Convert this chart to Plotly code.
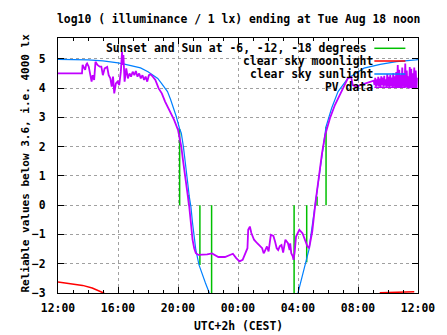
import plotly.graph_objects as go

# ---------------- data (hours since midnight of Aug 17; 24+ = Aug 18) ----------------
x_tickvals = [12, 16, 20, 24, 28, 32, 36]
x_ticktext = ["12:00", "16:00", "20:00", "00:00", "04:00", "08:00", "12:00"]
y_tickvals = [-3, -2, -1, 0, 1, 2, 3, 4, 5]

# Sunset / sun at -6, -12, -18 degrees (evening and morning), line from 0 to sunlight level
sun_event_times = [20.11, 20.71, 21.46, 22.24, 27.74, 28.58, 29.27, 29.87]
sun_event_levels = [2.6, 0.35, -2.04, -3.0, -3.0, -1.95, 0.3, 2.68]

# clear sky moonlight
moon_h_1 = [12.0, 12.13, 12.78, 13.64, 14.28, 15.04, 15.4]
moon_v_1 = [-2.62, -2.63, -2.66, -2.74, -2.83, -3.0, -3.15]
moon_h_2 = [33.45, 34.0, 35.0, 35.75]
moon_v_2 = [-2.99, -2.98, -2.97, -2.96]

# clear sky sunlight
sun_h = [12.0, 13.0, 14.0, 15.0, 15.5, 16.0, 16.5, 17.0, 17.5, 18.0, 18.3, 18.65, 18.9,
         19.1, 19.3, 19.5, 19.73, 19.89, 20.1, 20.22, 20.36, 20.54, 20.65, 20.75, 20.86,
         20.97, 21.19, 21.40, 21.62, 21.83, 22.05, 22.3,
         27.8, 28.0, 28.09, 28.30, 28.52, 28.74, 28.84, 29.06, 29.27, 29.49, 29.70, 29.87,
         30.24, 30.67, 31.32, 32.40, 33.48, 34.56, 35.85, 36.0]
sun_v = [4.98, 4.98, 4.96, 4.93, 4.90, 4.86, 4.81, 4.76, 4.69, 4.56, 4.46, 4.33, 4.16,
         4.02, 3.88, 3.62, 3.30, 3.02, 2.62, 2.46, 2.0, 1.32, 0.75, 0.30, -0.05,
         -0.61, -1.53, -2.04, -2.38, -2.66, -2.95, -3.3,
         -3.4, -3.0, -2.78, -2.45, -2.0, -1.5, -1.1, -0.27, 0.41, 1.2, 2.0, 2.68,
         3.31, 3.88, 4.33, 4.68, 4.81, 4.90, 4.96, 4.97]

# PV data
pv_h = [12.00, 13.60, 13.64, 13.75, 13.81, 13.88, 13.94, 14.05, 14.13, 14.24, 14.31, 14.41,
        14.50, 14.63, 14.78, 14.89, 14.99, 15.11, 15.28, 15.38, 15.49, 15.58, 15.67, 15.75,
        15.86, 15.97, 16.08, 16.19, 16.27, 16.31, 16.36, 16.44, 16.55, 16.66, 16.77, 16.87,
        16.98, 17.09, 17.19, 17.30, 17.41, 17.52, 17.63, 17.74, 17.84, 17.95, 18.06, 18.17,
        18.27, 18.38, 18.49, 18.71, 18.92, 19.14, 19.36, 19.57, 19.74, 20.00, 20.22, 20.33,
        20.49, 20.65, 20.75, 20.86, 20.97, 21.08, 21.19, 21.36, 21.62, 21.94, 22.27, 22.48,
        22.69, 23.13, 23.45, 23.66, 23.88, 24.10, 24.31, 24.42, 24.53, 24.63, 24.68, 24.79,
        24.89, 25.07, 25.28, 25.50, 25.61, 25.71, 25.76, 25.93, 26.04, 26.19, 26.36, 26.47,
        26.58, 26.68, 26.79, 26.90, 27.01, 27.16, 27.33, 27.44, 27.48, 27.55, 27.65, 27.70,
        27.78, 27.87, 28.09, 28.30, 28.52, 28.63, 28.74, 28.84, 28.95, 29.16, 29.38, 29.60,
        29.81, 30.13, 30.46, 30.78, 31.10, 31.32, 31.54, 31.65, 31.86, 32.40, 32.83, 32.94,
        33.00, 33.05, 33.10, 33.15, 33.20, 33.25, 33.30, 33.35, 33.40, 33.45, 33.50, 33.55,
        33.60, 33.65, 33.70, 33.75, 33.80, 33.85, 33.90, 33.95, 34.00, 34.05, 34.10, 34.15,
        34.20, 34.25, 34.30, 34.35, 34.40, 34.45, 34.50, 34.55, 34.60, 34.65, 34.70, 34.75,
        34.80, 34.85, 34.90, 34.95, 35.00, 35.05, 35.10, 35.15, 35.20, 35.25, 35.30, 35.35,
        35.40, 35.45, 35.50, 35.55, 35.60, 35.65, 35.70, 35.75, 35.80, 35.85, 35.90, 35.93]
pv_v = [4.50, 4.50, 4.79, 4.70, 4.62, 4.80, 4.84, 4.73, 4.50, 4.22, 4.44, 4.28,
        4.90, 4.79, 4.73, 4.73, 4.44, 4.67, 4.72, 4.44, 4.33, 4.05, 4.39, 3.82,
        4.16, 4.22, 4.10, 4.56, 5.24, 4.79, 5.13, 4.22, 4.67, 4.33, 4.50, 4.39,
        4.56, 4.44, 4.58, 4.39, 4.50, 4.33, 4.44, 4.28, 4.39, 4.22, 4.44, 4.47,
        4.42, 4.33, 4.28, 3.99, 3.82, 3.54, 3.31, 3.14, 2.91, 2.57, 2.00, 1.55,
        0.98, 0.29, -0.05, -0.61, -1.18, -1.47, -1.64, -1.70, -1.70, -1.68, -1.65, -1.70,
        -1.77, -1.77, -1.70, -1.66, -1.81, -1.92, -1.87, -1.72, -1.58, -1.47, -0.84, -0.73,
        -0.95, -1.18, -1.30, -1.41, -1.47, -1.64, -1.60, -1.41, -1.58, -1.01, -1.05, -1.24,
        -1.47, -1.53, -1.40, -1.36, -1.62, -1.18, -1.30, -1.53, -1.30, -1.64, -1.75, -1.87,
        -1.60, -1.07, -0.84, -0.96, -1.30, -1.41, -1.47, -1.24, -0.90, 0.07, 0.98, 1.77,
        2.40, 2.97, 3.42, 3.76, 4.10, 4.33, 4.38, 4.10, 4.05, 4.13, 4.22, 4.22,
        4.22, 4.25, 4.10, 4.35, 4.05, 4.30, 4.08, 4.38, 4.06, 4.32, 4.04, 4.40,
        4.10, 4.36, 4.05, 4.42, 4.08, 4.30, 4.04, 4.48, 4.06, 4.38, 4.03, 4.45,
        4.07, 4.36, 4.03, 4.50, 4.05, 4.40, 4.03, 4.55, 4.03, 4.79, 4.03, 4.62,
        4.03, 4.45, 4.03, 4.70, 4.05, 4.50, 4.00, 4.84, 4.02, 4.60, 4.00, 4.40,
        3.99, 4.72, 4.00, 4.66, 3.99, 4.50, 4.00, 4.70, 3.99, 4.60, 4.00, 4.35]

legend_names = ["Sunset and Sun at -6, -12, -18 degrees", "clear sky moonlight",
                "clear sky sunlight", "PV data"]

# ---------------- styles ----------------
GREEN = "#00c000"
RED = "#ff0000"
BLUE = "#0080ff"
PURPLE = "#c000ff"
FONT = "DejaVu Sans Mono"
FS = 11.4

W, H = 447, 335
L, R, T, B = 58, 18, 38, 42
PW, PH = W - L - R, H - T - B

def px(xp):
    return (xp - L) / PW

def py(yp):
    return (H - B - yp) / PH

fig = go.Figure()

# green event lines
gx, gy = [], []
for t, lv in zip(sun_event_times, sun_event_levels):
    gx += [t, t, None]
    gy += [0, lv, None]
fig.add_trace(go.Scatter(x=gx, y=gy, mode="lines", line=dict(color=GREEN, width=1.5),
                         name=legend_names[0], showlegend=False))
fig.add_trace(go.Scatter(x=moon_h_1 + [None] + moon_h_2, y=moon_v_1 + [None] + moon_v_2,
                         mode="lines", line=dict(color=RED, width=1.5),
                         name=legend_names[1], showlegend=False))
fig.add_trace(go.Scatter(x=sun_h, y=sun_v, mode="lines", line=dict(color=BLUE, width=1.2),
                         name=legend_names[2], showlegend=False))
fig.add_trace(go.Scatter(x=pv_h, y=pv_v, mode="lines", line=dict(color=PURPLE, width=1.8),
                         name=legend_names[3], showlegend=False))

tickfont = dict(family=FONT, size=FS, color="black", weight="bold")
axis_common = dict(showline=True, linecolor="black", linewidth=1, mirror="allticks",
                   ticks="inside", tickcolor="black", ticklen=6, tickwidth=1,
                   showgrid=True, gridcolor="#a0a0a0", gridwidth=1, griddash="3px,3px",
                   zeroline=False, tickfont=tickfont)

fig.update_xaxes(range=[12, 36], tickvals=x_tickvals, ticktext=x_ticktext,
                 minor=dict(dtick=1, tick0=12, ticks="inside", ticklen=3, tickcolor="black", showgrid=False),
                 ticklabelstandoff=4, **axis_common)
fig.update_yaxes(range=[-3, 5.71], tickvals=y_tickvals, ticklabelstandoff=9, **axis_common)

# opaque key area hides grid (between grid and traces)
shapes = [dict(type="rect", xref="paper", yref="paper", x0=px(107), x1=px(418), y0=py(93), y1=1,
               fillcolor="white", line=dict(width=0), layer="between")]

annotations = []
key_rows = [48.3, 61, 74, 87.3]
key_text_right = [378, 385, 385, 385]
key_colors = [GREEN, RED, BLUE, PURPLE]
for name, yr, xr, c in zip(legend_names, key_rows, key_text_right, key_colors):
    annotations.append(dict(text=name, xref="paper", yref="paper", x=px(xr), y=py(yr),
                            xanchor="right", yanchor="middle", showarrow=False,
                            font=tickfont))
    shapes.append(dict(type="line", xref="paper", yref="paper", x0=px(384), x1=px(416),
                       y0=py(yr), y1=py(yr), line=dict(color=c, width=1.5), layer="above"))

annotations.append(dict(text="log10 ( illuminance / 1 lx) ending at Tue Aug 18 noon",
                        xref="paper", yref="paper", x=0.5, y=py(18.5), xanchor="center",
                        yanchor="middle", showarrow=False, font=tickfont))
annotations.append(dict(text="UTC+2h (CEST)", xref="paper", yref="paper", x=0.5, y=py(325.7),
                        xanchor="center", yanchor="middle", showarrow=False, font=tickfont))
annotations.append(dict(text="Reliable values below 3.6, i.e. 4000 lx", xref="paper", yref="paper",
                        x=px(24), y=py(163.5), xanchor="center", yanchor="middle", textangle=-90,
                        showarrow=False,
                        font=dict(family=FONT, size=11.0, color="black", weight="bold")))

fig.update_layout(width=W, height=H, margin=dict(l=L, r=R, t=T, b=B, pad=0),
                  paper_bgcolor="white", plot_bgcolor="white", showlegend=False,
                  shapes=shapes, annotations=annotations,
                  font=dict(family=FONT, size=FS, color="black"))

fig.write_html("out.html")
